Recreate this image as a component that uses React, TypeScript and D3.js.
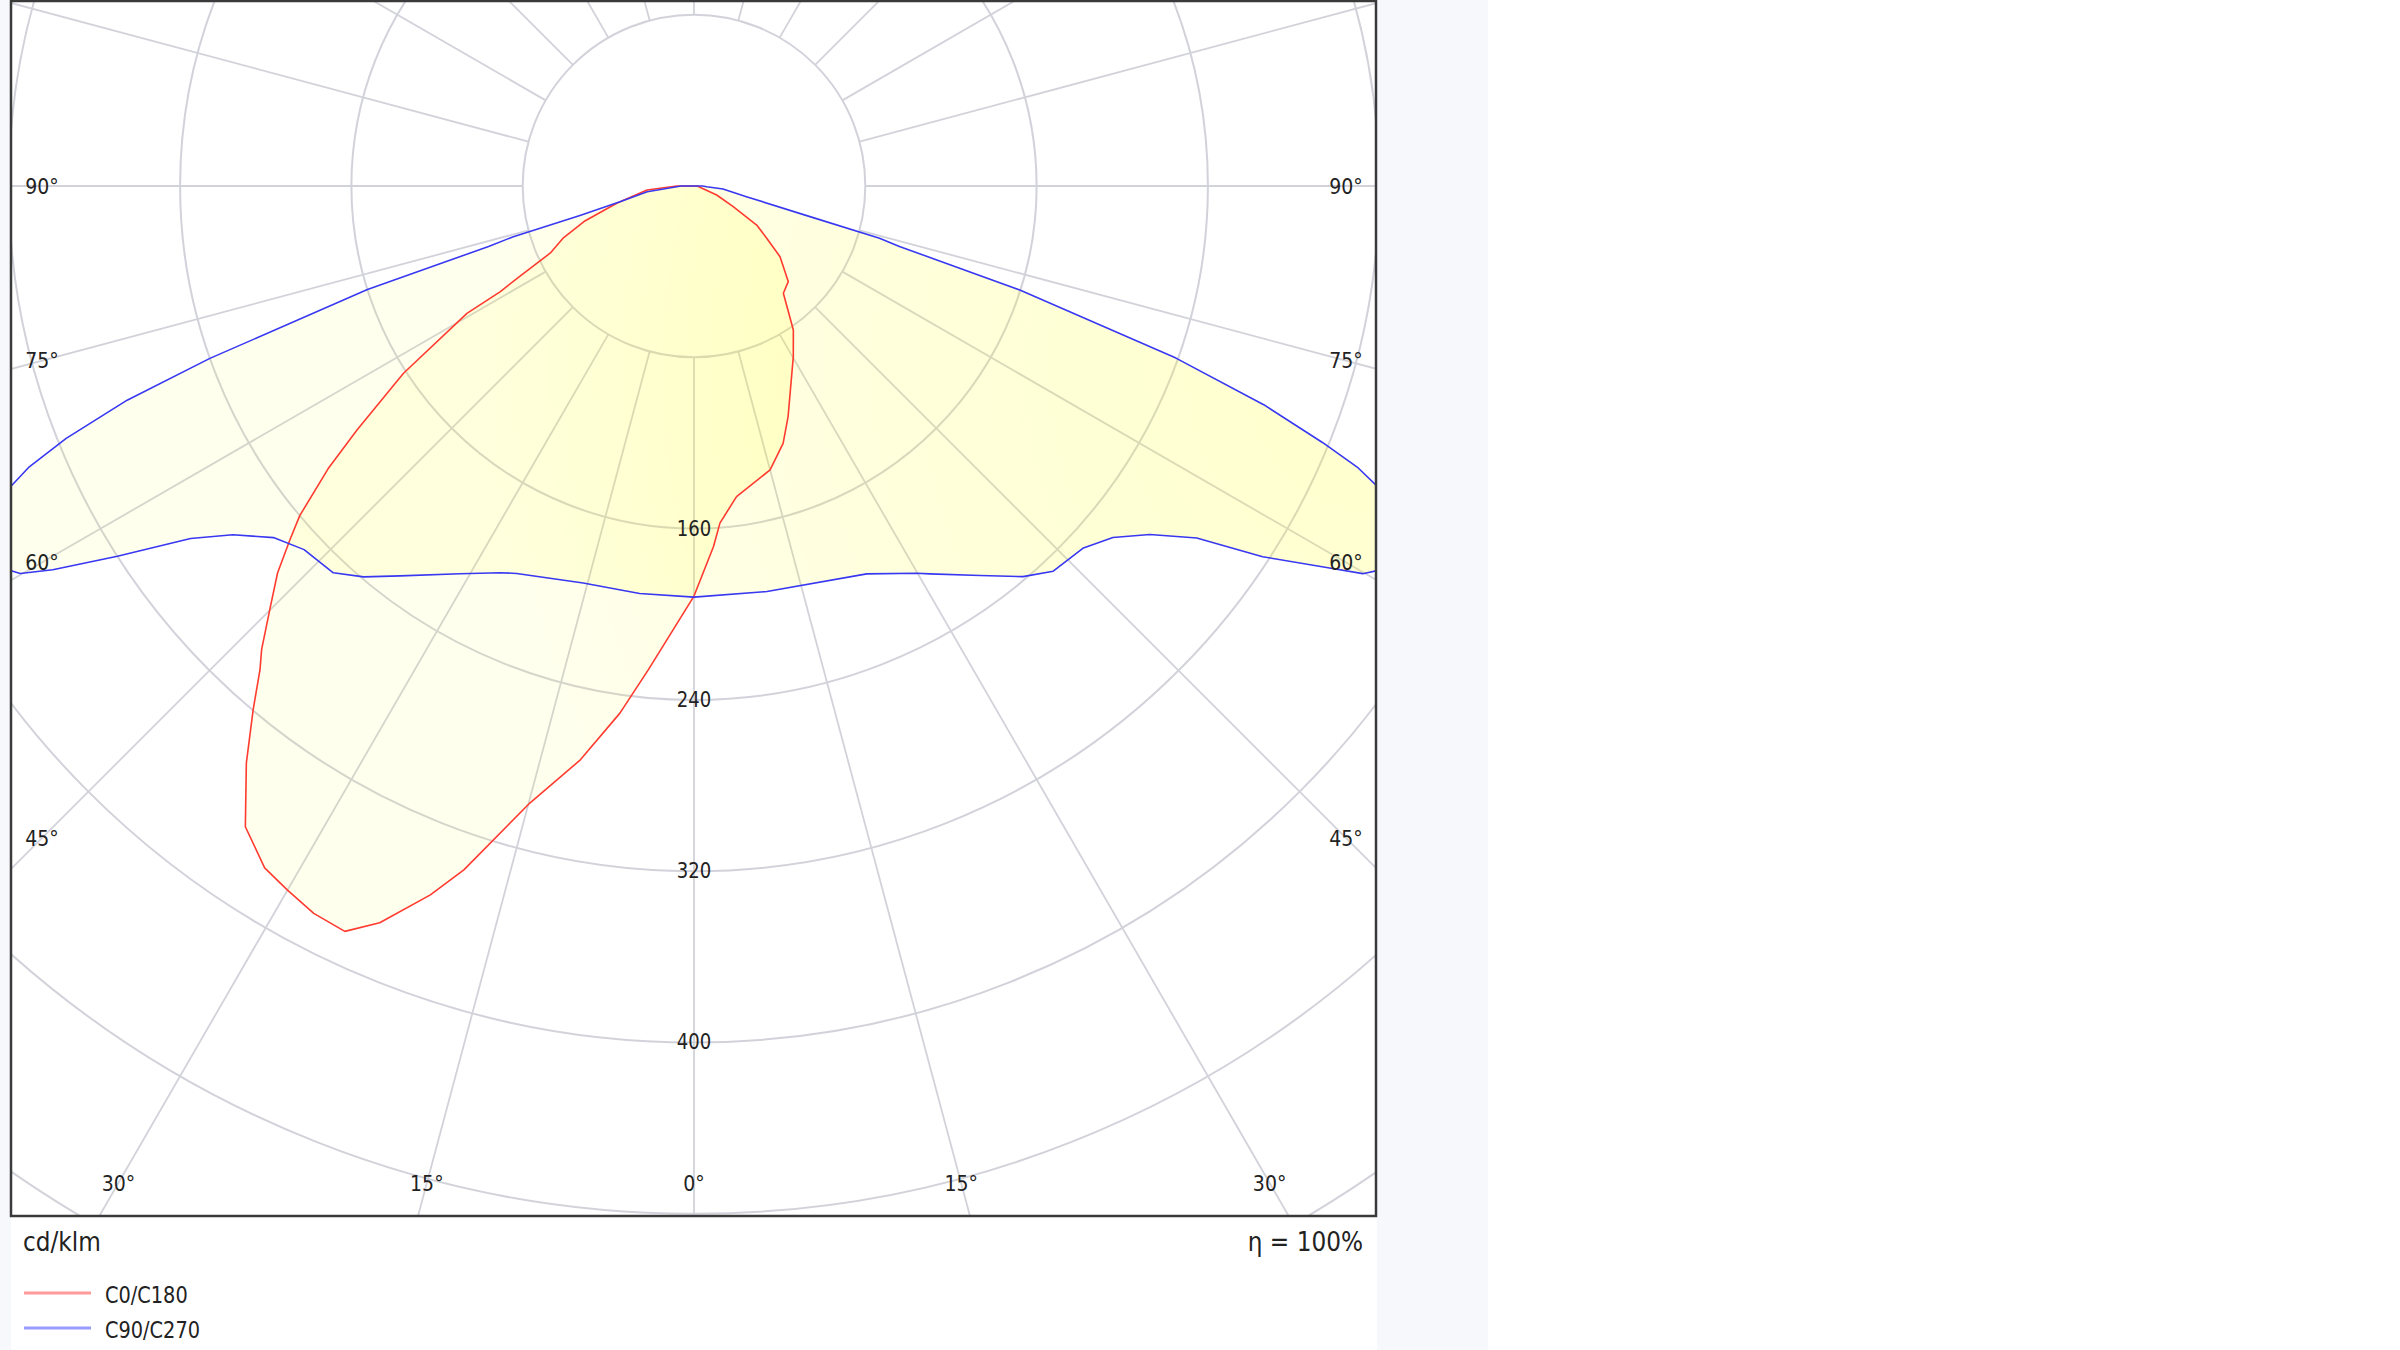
import React from "react";
import * as d3 from "d3";

// C0/C180 plane: gamma (deg, negative = left half) and intensity (cd/klm)
const c0Angles = [
  -90, -85.2, -77.4, -72.1, -68.2, -65, -62.6, -61.4, -60.7, -57.2, -54.1, -52.3,
  -50.1, -48.8, -47.1, -45.2, -43, -41.9, -40.1, -37.8, -35, -32.2, -30, -27.6,
  -25.1, -23.1, -20.4, -18.6, -14.9, -11.2, -8, -5.4, 0, 3.1, 4.4, 7.8, 15, 19.1,
  22.2, 30.2, 34.6, 39.8, 44.6, 50.6, 54.3, 58.1, 62.2, 68.4, 90,
];
const c0Values = [
  8, 22, 37, 54, 66, 74, 91.5, 103, 121.6, 161.4, 194.3, 216,
  240, 250.8, 265.5, 278.8, 296.1, 303.5, 319.6, 341.1, 365.3, 376.3, 379.7, 383.3,
  384.4, 374.1, 353.2, 337, 298.2, 273.2, 248.6, 227, 191.5, 168.6, 157.9, 146.4, 137.3, 127.2,
  116.3, 92.2, 81.7, 65.2, 62.7, 52, 41.8, 34.5, 20.7, 11.4, 1.5,
];

// C90/C270 plane
const c90Angles = [
  -90, -83, -78, -75.5, -74.3, -73.6, -72.4, -70.4, -69.3, -68.1, -67.1, -66.3,
  -65, -62.5, -60.6, -60.1, -59.1, -57.3, -55, -52.9, -50.1, -47, -43, -40.2, -37,
  -31.1, -26.6, -24.6, -15.6, -7.6, 0, 10.2, 24, 29.9, 31.3, 36.3, 40.1, 43, 47.1,
  50, 52.6, 55, 56.9, 58.9, 59.9, 60.6, 62.5, 65, 66.3, 67, 67.8, 69, 70.35, 72.3,
  73.6, 74.3, 75.2, 78.5, 84.1, 86.8, 90,
];
const c90Values = [
  6, 22, 35, 55, 88, 100, 160, 240, 283, 316, 337, 348,
  375, 395, 366, 363, 349, 320, 287, 270, 256, 249, 247, 239, 228,
  211.5, 202, 199, 192.5, 192, 192, 192.4, 198.3, 208.6, 212, 225.7, 238.5, 246, 248.3,
  255.4, 268, 286.6, 317, 345, 361, 366, 395, 375, 348, 337, 317, 285, 239, 160,
  100, 90, 56, 25, 13.6, 6, 4,
];

const ringValues = [80, 160, 240, 320, 400, 480, 560, 640];
const ringLabels = [160, 240, 320, 400];
const spokeAngles = d3.range(0, 360, 15);
const angleLabels = [-90, -75, -60, -45, -30, -15, 0, 15, 30, 45, 60, 75, 90];

const series = [
  { name: "C0/C180", angles: c0Angles, values: c0Values, color: "#ff3b30", legend: "#ff9a9a" },
  { name: "C90/C270", angles: c90Angles, values: c90Values, color: "#3838f2", legend: "#9a9aff" },
];

const CX = 694;
const CY = 186;
const BOX = { x: 11, y: 1, w: 1365, h: 1215 };
const FONT = "'DejaVu Sans', sans-serif";

// narrow-looking label (squeezed horizontally like the original Tahoma-ish face)
const Label = ({ x, y, size, anchor = "start", baseline = "auto", children }: any) => (
  <g transform={`translate(${x},${y}) scale(0.86,1)`}>
    <text
      textAnchor={anchor}
      dominantBaseline={baseline}
      fontFamily={FONT}
      fontSize={size}
      fill="#222"
    >
      {children}
    </text>
  </g>
);

const App = () => {
  const r = d3.scaleLinear().domain([0, 80]).range([0, 171.3]);
  const rad = (deg: number) => (deg * Math.PI) / 180;

  const radial = d3
    .lineRadial<[number, number]>()
    .angle((d) => Math.PI - rad(d[0]))
    .radius((d) => r(d[1]))
    .curve(d3.curveLinearClosed);

  // where an angle label sits: ray meets the inset rectangle
  const labelPos = (a: number) => {
    const s = Math.sin(rad(a));
    const c = Math.cos(rad(a));
    const ts: number[] = [];
    if (Math.abs(s) > 1e-6) ts.push((s < 0 ? -652 : 652) / s);
    if (c > 1e-6) ts.push((1183 - CY) / c);
    const t = d3.min(ts) as number;
    return [CX + t * s, CY + t * c];
  };

  return (
    <div style={{ position: "absolute", left: 0, top: 0 }}>
      <svg width={2400} height={1350} style={{ display: "block" }}>
        <defs>
          <clipPath id="plotClip">
            <rect x={BOX.x} y={BOX.y} width={BOX.w} height={BOX.h} />
          </clipPath>
          <radialGradient id="fillGrad" gradientUnits="userSpaceOnUse" cx={CX} cy={CY} r={900}>
            <stop offset="0" stopColor="#ffff00" stopOpacity={0.2} />
            <stop offset="0.55" stopColor="#ffff00" stopOpacity={0.14} />
            <stop offset="1" stopColor="#ffff00" stopOpacity={0.07} />
          </radialGradient>
        </defs>

        <rect x={0} y={0} width={1488} height={1350} fill="#f7f8fc" />
        <rect x={11} y={0} width={1366} height={1350} fill="#ffffff" />

        <g clipPath="url(#plotClip)">
          {ringValues.map((v) => (
            <circle key={v} cx={CX} cy={CY} r={r(v)} fill="none" stroke="#d2d2da" strokeWidth={2} />
          ))}
          {spokeAngles.map((a) => (
            <line
              key={a}
              x1={CX + r(80) * Math.sin(rad(a))}
              y1={CY + r(80) * Math.cos(rad(a))}
              x2={CX + 2200 * Math.sin(rad(a))}
              y2={CY + 2200 * Math.cos(rad(a))}
              stroke="#d2d2da"
              strokeWidth={1.8}
            />
          ))}
          {series.map((s) => (
            <path
              key={s.name + "-fill"}
              transform={`translate(${CX},${CY})`}
              d={radial(s.angles.map((a, i) => [a, s.values[i]]) as [number, number][]) || ""}
              fill="url(#fillGrad)"
              stroke="none"
            />
          ))}
          {series.map((s) => (
            <path
              key={s.name + "-line"}
              transform={`translate(${CX},${CY})`}
              d={radial(s.angles.map((a, i) => [a, s.values[i]]) as [number, number][]) || ""}
              fill="none"
              stroke={s.color}
              strokeWidth={1.6}
              strokeLinejoin="round"
            />
          ))}
        </g>

        {ringLabels.map((v) => (
          <Label key={v} x={CX} y={CY + r(v)} size={21} anchor="middle" baseline="central">
            {v}
          </Label>
        ))}

        {angleLabels.map((a) => {
          const [x, y] = labelPos(a);
          return (
            <Label key={a} x={x} y={y} size={22} anchor="middle" baseline="central">
              {`${Math.abs(a)}°`}
            </Label>
          );
        })}

        <rect
          x={BOX.x}
          y={BOX.y}
          width={BOX.w}
          height={BOX.h}
          fill="none"
          stroke="#3a3a3a"
          strokeWidth={2.5}
        />

        <Label x={23} y={1251} size={27}>
          cd/klm
        </Label>
        <Label x={1363} y={1251} size={27} anchor="end">
          η = 100%
        </Label>

        {series.map((s, i) => (
          <g key={s.name}>
            <line
              x1={24}
              x2={91}
              y1={1293 + i * 35}
              y2={1293 + i * 35}
              stroke={s.legend}
              strokeWidth={3}
            />
            <Label x={105} y={1295 + i * 35} size={22.5} baseline="central">
              {s.name}
            </Label>
          </g>
        ))}
      </svg>
    </div>
  );
};

export default App;
